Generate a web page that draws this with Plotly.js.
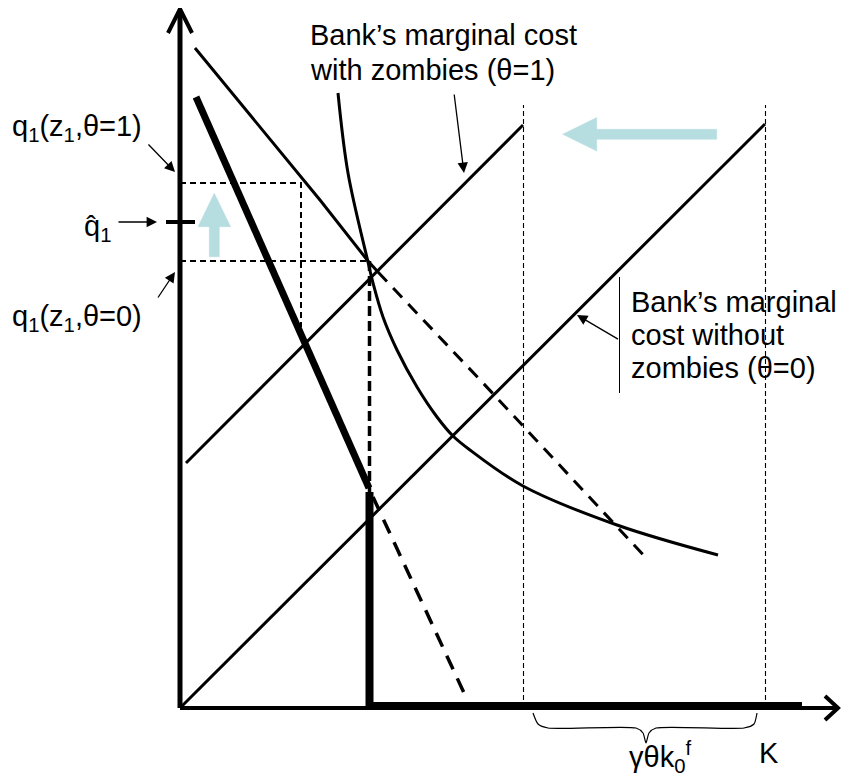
<!DOCTYPE html>
<html>
<head>
<meta charset="utf-8">
<script src="https://cdn.plot.ly/plotly-3.0.1.min.js"></script>
<style>html,body{margin:0;padding:0;background:#fff;}#chart{width:841px;height:780px;}</style>
</head>
<body>
<div id="chart"></div>
<script>
// ---- Diagram data (quantity on x, price on y; origin at the axes corner) ----
const axisYTop = 697, axisXRight = 656;
const mc0X = [0, 585],  mc0Y = [0, 584];          // bank's marginal cost without zombies (θ=0)
const mc1X = [6, 343],  mc1Y = [245, 583];        // bank's marginal cost with zombies (θ=1)
const kLinesX = [343.5, 585.5], kLineTop = 603;   // K − γθk0f and K
const curveX = [158, 168, 188, 193, 203, 217, 237, 257, 273, 290, 343, 437, 538];
const curveY = [615, 535, 446, 425, 391, 358, 321, 291, 272, 258, 222, 183, 153];
const demandX = [15, 140, 188, 198],  demandY = [660, 508, 447, 436];
const demandDashX = [198, 303, 468],  demandDashY = [436, 325, 148];
const boldDemandX = [16, 189],  boldDemandY = [611, 220];
const boldDashX = [193, 285],   boldDashY = [211, 13];
const supplyX = [189.5, 189.5, 622], supplyY = [216, 2, 2];
const q1Theta1 = 525, q1Hat = 486, q1Theta0 = 447;
const guide1X = 121, guide1Bottom = 381, guide0X = 189.5, guide0Bottom = 216;
const braceX = [353, 358, 368, 456, 463, 466, 469, 476, 564, 574, 577];
const braceY = [-5, -16, -20, -20, -25, -35, -25, -20, -20, -16, -5];

const BLUE = '#b6dde0';
const FONT = {family: 'Liberation Sans, Arial, sans-serif', size: 29, color: '#000'};

function line(x, y, width, dash, extra) {
  return Object.assign({type: 'scatter', mode: 'lines', x: x, y: y, hoverinfo: 'skip',
    line: {color: '#000', width: width, dash: dash || 'solid'}}, extra || {});
}
function polygon(x, y, color) {
  return {type: 'scatter', mode: 'lines', x: x, y: y, fill: 'toself', fillcolor: color,
    line: {color: color, width: 0.5}, hoverinfo: 'skip'};
}
// block arrows (tip, head base, tail, half widths)
function upArrow(x, tip, base, tail, hh, sh) {
  return polygon([x - sh, x - sh, x - hh, x, x + hh, x + sh, x + sh, x - sh],
                 [tail, base, base, tip, base, base, tail, tail], BLUE);
}
function leftArrow(y, tip, base, tail, hh, sh) {
  return polygon([tail, base, base, tip, base, base, tail, tail],
                 [y + sh, y + sh, y + hh, y, y - hh, y - sh, y - sh, y + sh], BLUE);
}

const traces = [
  upArrow(34.3, 514.7, 481.3, 451.3, 16.3, 5),
  leftArrow(573.7, 382.7, 416.7, 536.7, 16.7, 5),
  // guides
  line([0, guide1X, guide1X], [q1Theta1, q1Theta1, guide1Bottom], 2, '6px,4px'),
  line([0, guide0X], [q1Theta0, q1Theta0], 2, '6px,4px'),
  line([guide0X, guide0X], [q1Theta0, guide0Bottom], 3.5, '10px,5px'),
  line([kLinesX[0], kLinesX[0]], [0, kLineTop], 1.1, '5px,3px'),
  line([kLinesX[1], kLinesX[1]], [0, kLineTop], 1.1, '5px,3px'),
  // curves
  line(mc0X, mc0Y, 3),
  line(mc1X, mc1Y, 3),
  line(curveX, curveY, 3, 'solid', {line: {color: '#000', width: 3, shape: 'spline', smoothing: 1}}),
  line(demandX, demandY, 3),
  line(demandDashX, demandDashY, 3, '13px,9px'),
  line(boldDemandX, boldDemandY, 7),
  line(boldDashX, boldDashY, 3.5, '15px,10px'),
  // axes
  line([0, 0], [0, axisYTop], 5),
  line([0, axisXRight], [0, 0], 4),
  line([-12, 0, 12], [675, 699, 675], 4),
  line([645, 658, 645], [12, 0, -12], 4),
  line(supplyX, supplyY, 8),
  line([-14, 15], [q1Hat, q1Hat], 4),
  line(braceX, braceY, 1.2, 'solid', {line: {color: '#000', width: 1.2, shape: 'spline', smoothing: 0.6}}),
  line([439.5, 439.5], [431, 315], 1)
];

function text(x, y, t) {
  return {x: x, y: y, text: t, showarrow: false, xanchor: 'left', yanchor: 'middle', font: FONT};
}
function arrow(tailX, tailY, headX, headY) {
  return {x: headX, y: headY, ax: tailX, ay: tailY, axref: 'x', ayref: 'y', text: '',
    showarrow: true, arrowhead: 2, arrowsize: 1.6, arrowwidth: 1.3, arrowcolor: '#000', standoff: 0};
}

const annotations = [
  text(128, 672.7, 'Bank’s marginal cost'),
  text(128, 638, 'with zombies (θ=1)'),
  text(449, 406, 'Bank’s marginal'),
  text(449, 373, 'cost without'),
  text(449, 340, 'zombies (θ=0)'),
  text(-170, 580.5, 'q<sub>1</sub>(z<sub>1</sub>,θ=1)'),
  text(-98, 480, 'q\u0302<sub>1</sub>'),
  text(-170, 390.5, 'q<sub>1</sub>(z<sub>1</sub>,θ=0)'),
  text(447, -49, 'γθk<sub>0</sub><sup>f</sup>'),
  text(577, -45, 'K'),
  arrow(-33, 565, -5, 536),
  arrow(-63, q1Hat, -23, q1Hat),
  arrow(-23, 409, -5, 436),
  arrow(274, 615, 284, 535),
  arrow(439.5, 368, 397, 393)
];

const layout = {
  width: 841, height: 780,
  margin: {l: 0, r: 0, t: 0, b: 0},
  paper_bgcolor: '#fff', plot_bgcolor: '#fff',
  showlegend: false,
  xaxis: {range: [-180, 661], visible: false, fixedrange: true},
  yaxis: {range: [-72, 708], visible: false, fixedrange: true},
  annotations: annotations,
  font: FONT
};

Plotly.newPlot('chart', traces, layout, {staticPlot: true, displayModeBar: false});
</script>
</body>
</html>
